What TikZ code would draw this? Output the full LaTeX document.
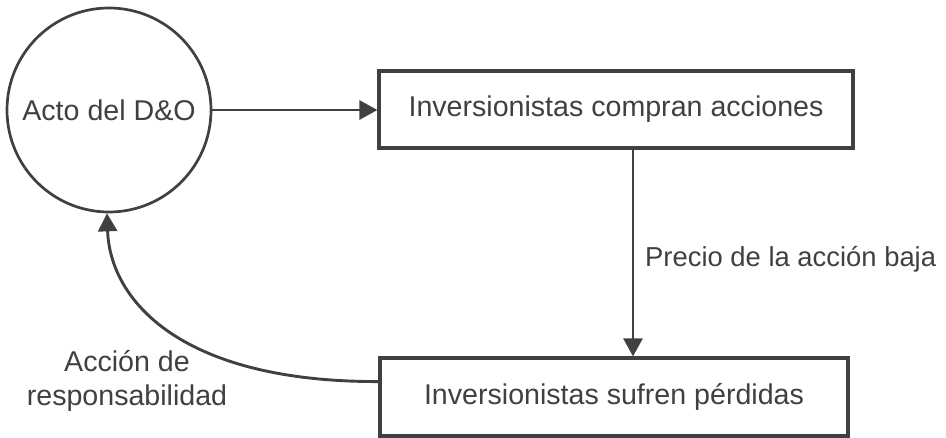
\documentclass[tikz,border=0pt]{standalone}
\usepackage{fontspec}
\setmainfont{Liberation Sans}
\usetikzlibrary{arrows.meta,calc}
\definecolor{ink}{HTML}{404040}
\definecolor{txt}{HTML}{404040}
\tikzset{
  flowbox/.style={draw=ink, line width=3.2pt, rectangle, inner sep=0pt, text=txt, font=\fontsize{28.6}{33.6}\selectfont},
  statecircle/.style={draw=ink, line width=2.7pt, circle, inner sep=0pt, minimum size=204pt, text=txt, font=\fontsize{28.6}{33.6}\selectfont},
  conn/.style={draw=ink, line width=2.9pt, -{Triangle[length=18pt,width=19pt]}},
  lbl/.style={text=txt, font=\fontsize{28.6}{33.6}\selectfont, inner sep=0pt, align=center}
}
\begin{document}
\begin{tikzpicture}[x=1pt,y=-1pt]
\useasboundingbox (0,0) rectangle (946,438);
\node[statecircle] (c) at (109,110) {Acto del D\&O};
\node[flowbox, minimum width=474pt, minimum height=77pt] (t) at (616,109.5) {Inversionistas compran acciones};
\node[flowbox, minimum width=468pt, minimum height=78pt] (b) at (614,397) {Inversionistas sufren pérdidas};
\coordinate (tdown) at (633,148);
\coordinate (bin) at ($(b.north west)!0.31!(b.south west)$);
\draw[conn] (c.east) -- (c.east -| t.west);
\draw[conn] (tdown) -- (tdown |- b.north);
\draw[conn] (bin) .. controls (180,382) and (110,300) .. ([xshift=-2pt]c.south);
\node[lbl, anchor=base west, font=\fontsize{27.4}{32}\selectfont] (p) at (645,267) {Precio de la acción baja};
\node[lbl] (r) at (127,381) {Acción de\\responsabilidad};
\end{tikzpicture}
\end{document}
